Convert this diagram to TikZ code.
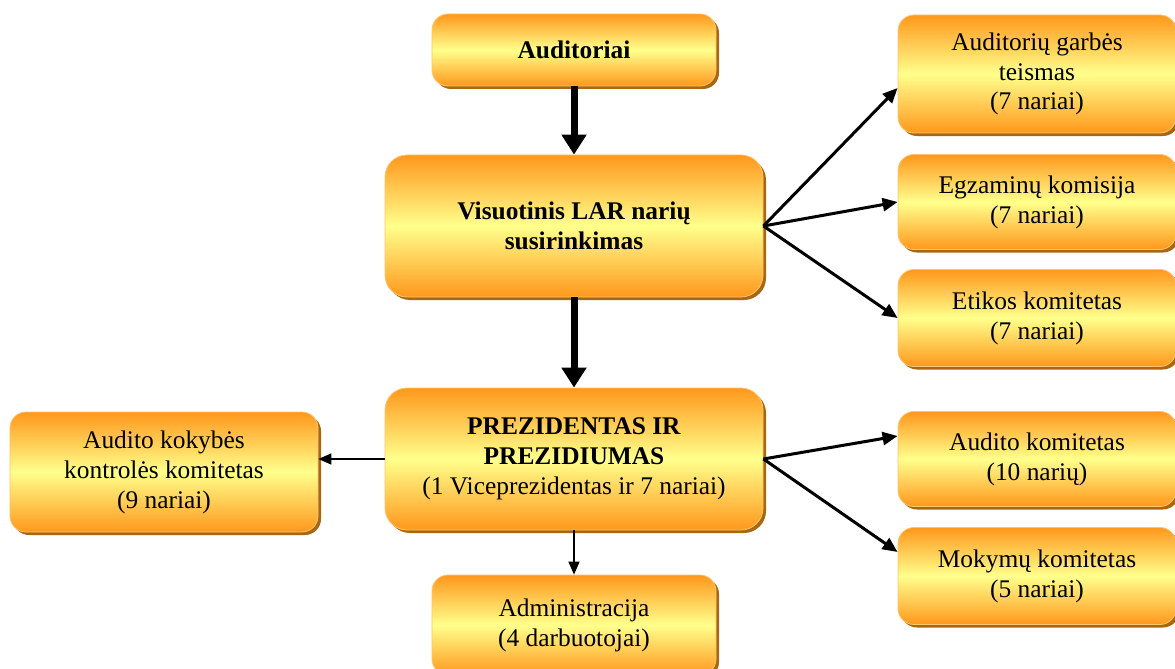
\documentclass[tikz,border=0pt]{standalone}
\usepackage{fontspec}
\setmainfont{Liberation Serif}
\usetikzlibrary{arrows.meta,shadows}
\definecolor{boxorange}{RGB}{255,152,28}
\definecolor{boxyellow}{RGB}{255,255,140}
\definecolor{boxedge}{RGB}{255,196,110}
\definecolor{boxshadow}{RGB}{168,104,18}
\tikzset{
  orgbox/.style={rectangle, rounded corners=16bp, draw=boxedge, line width=0.8bp,
    top color=boxorange, bottom color=boxorange, middle color=boxyellow,
    drop shadow={shadow xshift=3bp, shadow yshift=-3bp, fill=boxshadow, opacity=1},
    align=center, inner sep=2bp,
    font=\fontsize{25.5}{30}\selectfont},
  bigbox/.style={orgbox, rounded corners=22bp},
  thickarrow/.style={line width=7bp, -{Triangle[length=20bp,width=24bp]}},
  midarrow/.style={line width=3bp, -{Triangle[length=15bp,width=13bp]}},
  thinarrow/.style={line width=1.5bp, -{Triangle[length=13bp,width=11bp]}}
}
\begin{document}
\begin{tikzpicture}[x=1bp,y=-1bp]
\useasboundingbox (0,0) rectangle (1175,669);

% central column
\node[orgbox, minimum width=284bp, minimum height=72bp] (aud) at (574,50) {\textbf{Auditoriai}};
\node[bigbox, minimum width=378bp, minimum height=142bp] (vis) at (574,226)
  {\textbf{Visuotinis LAR narių}\\\textbf{susirinkimas}};
\node[bigbox, minimum width=378bp, minimum height=142bp] (prez) at (574,459)
  {\textbf{PREZIDENTAS IR}\\\textbf{PREZIDIUMAS}\\(1 Viceprezidentas ir 7 nariai)};
\node[orgbox, minimum width=284bp, minimum height=100bp] (adm) at (574,625)
  {Administracija\\(4 darbuotojai)};

% left committee
\node[orgbox, minimum width=308bp, minimum height=120bp] (akk) at (164,472)
  {Audito kokybės\\kontrolės komitetas\\(9 nariai)};

% right committees
\node[orgbox, minimum width=278bp, minimum height=118bp] (agt) at (1037,74)
  {Auditorių garbės\\teismas\\(7 nariai)};
\node[orgbox, minimum width=278bp, minimum height=95bp] (egz) at (1037,202)
  {Egzaminų komisija\\(7 nariai)};
\node[orgbox, minimum width=278bp, minimum height=97bp] (etk) at (1037,318)
  {Etikos komitetas\\(7 nariai)};
\node[orgbox, minimum width=278bp, minimum height=95bp] (akom) at (1037,459)
  {Audito komitetas\\(10 narių)};
\node[orgbox, minimum width=278bp, minimum height=97bp] (mok) at (1037,576)
  {Mokymų komitetas\\(5 nariai)};

% connectors
\draw[thickarrow] (aud.south) -- (vis.north);
\draw[thickarrow] (vis.south) -- (prez.north);
\draw[thinarrow] (prez.south) -- (adm.north);
\draw[thinarrow] (prez.west) -- (prez.west -| akk.east);

\draw[midarrow] (vis.east) -- ([yshift=-14bp]agt.west);
\draw[midarrow] (vis.east) -- (egz.west);
\draw[midarrow] (vis.east) -- (etk.west);
\draw[midarrow] (prez.east) -- ([yshift=23bp]akom.west);
\draw[midarrow] (prez.east) -- ([yshift=24bp]mok.west);
\end{tikzpicture}
\end{document}
